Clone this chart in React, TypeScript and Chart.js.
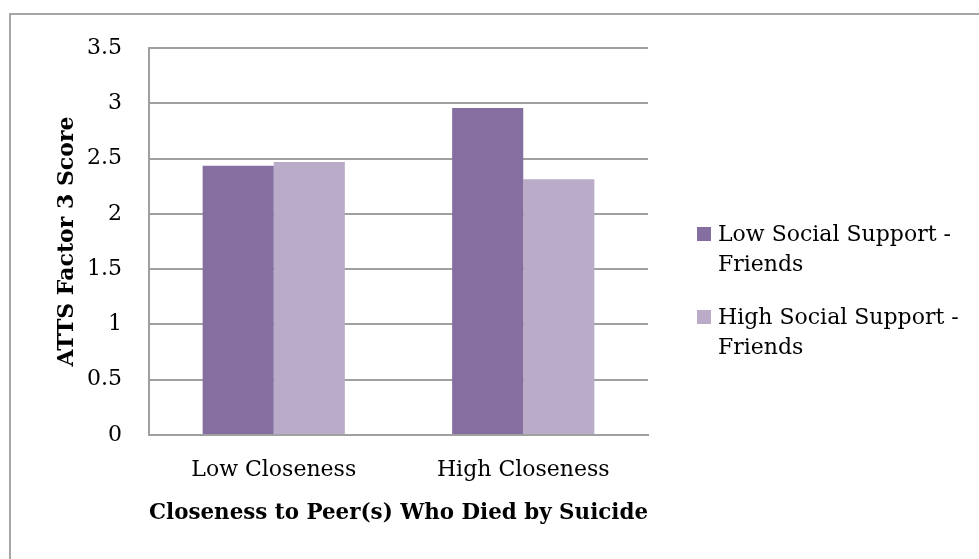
import React, { useEffect, useRef } from "react";
import { Chart, registerables } from "chart.js";

Chart.register(...registerables);

const categories = ["Low Closeness", "High Closeness"];
const seriesNames = ["Low Social Support - Friends", "High Social Support - Friends"];
const legendLines = [
  ["Low Social Support -", "Friends"],
  ["High Social Support -", "Friends"],
];
const lowSupport = [2.435, 2.957];
const highSupport = [2.468, 2.313];
const seriesColors = ["#856EA0", "#BAABC9"];
const yTitle = "ATTS Factor 3 Score";
const xTitle = "Closeness to Peer(s) Who Died by Suicide";

const FONT = "'DejaVu Serif', serif";

const framePlugin = {
  id: "frame",
  beforeDraw(chart: any) {
    const ctx = chart.ctx;
    ctx.save();
    ctx.fillStyle = "#ffffff";
    ctx.fillRect(0, 0, chart.width, chart.height);
    ctx.strokeStyle = "#A6A6A6";
    ctx.lineWidth = 2;
    ctx.strokeRect(10, 14, chart.width + 20, chart.height + 20);
    ctx.restore();
  },
};

const legendPlugin = {
  id: "customLegend",
  afterDraw(chart: any) {
    const ctx = chart.ctx;
    const x0 = chart.chartArea.right + 49;
    const yStart = 235;
    const lineH = 30;
    const itemGap = 83;
    ctx.save();
    ctx.font = `22px ${FONT}`;
    ctx.textBaseline = "middle";
    ctx.textAlign = "left";
    chart.data.datasets.forEach((ds: any, i: number) => {
      const y = yStart + i * itemGap;
      ctx.fillStyle = ds.backgroundColor;
      ctx.fillRect(x0, y - 8, 14, 14);
      ctx.fillStyle = "#000000";
      legendLines[i].forEach((t, j) => {
        ctx.fillText(t, x0 + 21, y + j * lineH);
      });
    });
    ctx.restore();
  },
};

export default function App() {
  const ref = useRef<HTMLCanvasElement>(null);

  useEffect(() => {
    if (!ref.current) return;
    const chart = new Chart(ref.current, {
      type: "bar",
      data: {
        labels: categories,
        datasets: [
          {
            label: seriesNames[0],
            data: lowSupport,
            backgroundColor: seriesColors[0],
            borderWidth: 0,
          },
          {
            label: seriesNames[1],
            data: highSupport,
            backgroundColor: seriesColors[1],
            borderWidth: 0,
          },
        ],
      },
      options: {
        responsive: false,
        animation: false,
        layout: { padding: { left: 0, top: 48, right: 331, bottom: 0 } },
        datasets: { bar: { barPercentage: 1, categoryPercentage: 0.57 } },
        plugins: {
          legend: { display: false },
          tooltip: { enabled: false },
        },
        scales: {
          x: {
            grid: { display: false, drawTicks: false },
            border: { display: true, color: "#A0A0A0", width: 2 },
            ticks: {
              color: "#000000",
              font: { family: FONT, size: 22 },
              padding: 22,
            },
            title: {
              display: true,
              text: xTitle,
              color: "#000000",
              font: { family: FONT, size: 22, weight: "bold" },
              padding: { top: 0, bottom: 33 },
            },
            afterFit(scale: any) {
              scale.height = 124;
            },
          },
          y: {
            min: 0,
            max: 3.5,
            grid: { color: "#A0A0A0", lineWidth: 2, drawTicks: false },
            border: { display: true, color: "#A0A0A0", width: 2 },
            ticks: {
              stepSize: 0.5,
              color: "#000000",
              font: { family: FONT, size: 22 },
              padding: 27,
              callback: (v: any) => String(Number(v)),
            },
            title: {
              display: true,
              text: yTitle,
              color: "#000000",
              font: { family: FONT, size: 22, weight: "bold" },
              padding: { top: 54, bottom: 0 },
            },
            afterFit(scale: any) {
              scale.width = 149;
            },
          },
        },
      },
      plugins: [framePlugin, legendPlugin],
    });
    return () => chart.destroy();
  }, []);

  return (
    <div style={{ position: "fixed", left: 0, top: 0, width: 979, height: 559 }}>
      <canvas ref={ref} width={979} height={559} />
    </div>
  );
}
